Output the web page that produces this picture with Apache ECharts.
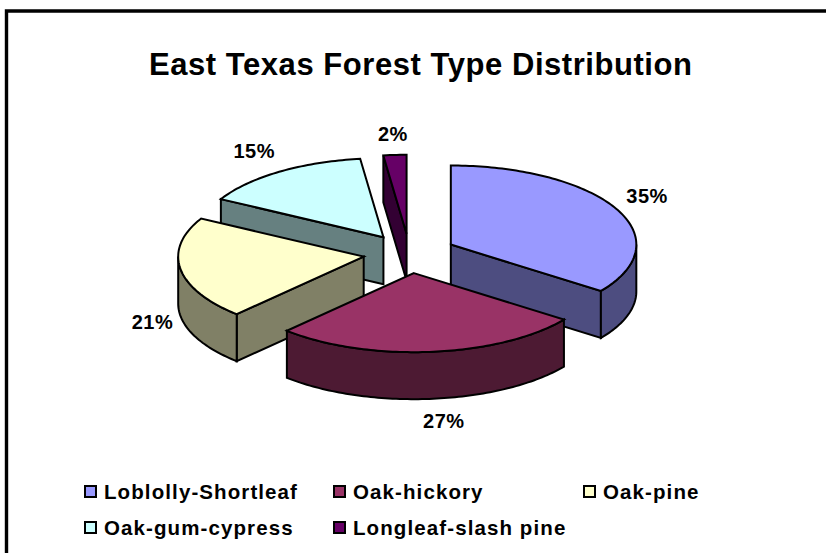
<!DOCTYPE html>
<html><head><meta charset="utf-8">
<style>html,body{margin:0;padding:0;background:#fff}#c{width:826px;height:553px}
svg text{letter-spacing:0}
svg text[style*="20.5px"]{letter-spacing:1.1px}
svg text[style*="31px"]{letter-spacing:.55px}
svg text[style*="20px"]{letter-spacing:.5px}
</style>
<script src="https://cdn.jsdelivr.net/npm/echarts@6/dist/echarts.min.js"></script>
</head><body><div id="c"></div>
<script>
const titleText = 'East Texas Forest Type Distribution';
const categories = ['Loblolly-Shortleaf','Oak-hickory','Oak-pine','Oak-gum-cypress','Longleaf-slash pine'];
const values = [35,27,21,15,2];
const topColors = ['#9999FF','#993366','#FFFFCC','#CCFFFF','#660066'];
const sideColors = ['#4D4D80','#4D1A33','#808066','#668080','#330033'];

const P = {cx:409.5, cy:253.5, rx:185.5, ry:79, depth:47, explode:0.25, lw:2};
const labelNudge = [[31,-13],[12.5,69],[-28,53],[-25,-21],[-2,-21]];
const legendSpots = [[84,481],[333,481],[583,481],[84,517],[333,517]];
const drawOrder = [4,3,2,0,1];

const total = values.reduce((a,b)=>a+b,0);
const starts = [];
values.reduce((acc,v,i)=>{starts[i]=acc;return acc+v;},0);
const rad = v => v/total*Math.PI*2;

function arc(ox,oy,a0,a1){
  const n = Math.max(2,Math.ceil((a1-a0)/0.02)), pts=[];
  for(let k=0;k<=n;k++){
    const a=a0+(a1-a0)*k/n;
    pts.push([ox+P.rx*Math.sin(a), oy-P.ry*Math.cos(a)]);
  }
  return pts;
}
function renderSlice(i){
  return function(){
    const a0=rad(starts[i]), a1=rad(starts[i]+values[i]), mid=(a0+a1)/2;
    const ox=P.cx+P.explode*P.rx*Math.sin(mid), oy=P.cy-P.explode*P.ry*Math.cos(mid);
    const st={stroke:'#000',lineWidth:P.lw,lineJoin:'miter'};
    const kids=[];
    const poly=(pts,fill)=>kids.push({type:'polygon',shape:{points:pts},style:Object.assign({fill},st)});
    const wall=a=>{
      const e=[ox+P.rx*Math.sin(a),oy-P.ry*Math.cos(a)];
      poly([[ox,oy],e,[e[0],e[1]+P.depth],[ox,oy+P.depth]],sideColors[i]);
    };
    // a radial wall shows only when it faces the viewer
    if(a0>Math.PI) wall(a0);
    if(a1<Math.PI) wall(a1);
    const f0=Math.max(a0,Math.PI/2), f1=Math.min(a1,Math.PI*1.5);
    if(f1>f0){
      const up=arc(ox,oy,f0,f1);
      const low=up.map(p=>[p[0],p[1]+P.depth]).reverse();
      poly(up.concat(low),sideColors[i]);
    }
    poly([[ox,oy]].concat(arc(ox,oy,a0,a1)),topColors[i]);
    kids.push({type:'text',style:{
      text:values[i]+'%',
      x:ox+P.rx*Math.sin(mid)+labelNudge[i][0],
      y:oy-P.ry*Math.cos(mid)+labelNudge[i][1],
      fill:'#000',font:'bold 20px "Liberation Sans"',align:'center',verticalAlign:'middle'}});
    return {type:'group',children:kids};
  };
}
const chart=echarts.init(document.getElementById('c'),null,{renderer:'svg'});
chart.setOption({
  animation:false,
  backgroundColor:'#fff',
  title:{text:titleText,left:144,top:44,padding:5,
    textStyle:{fontFamily:'Liberation Sans',fontWeight:'bold',fontSize:31,color:'#000'}},
  legend:categories.map((name,i)=>({
    data:[name],left:legendSpots[i][0],top:legendSpots[i][1],padding:0,
    icon:'rect',itemWidth:11,itemHeight:11,itemGap:0,
    itemStyle:{borderColor:'#000',borderWidth:2},
    textStyle:{fontFamily:'Liberation Sans',fontWeight:'bold',fontSize:20.5,color:'#000',padding:[0,0,0,3]},
    selectedMode:false
  })),
  graphic:[{type:'polyline',shape:{points:[[6.5,553],[6.5,11],[826,11]]},
    style:{stroke:'#000',lineWidth:3.4,fill:null},z:-1}],
  series:drawOrder.map(i=>({
    type:'custom',name:categories[i],coordinateSystem:'none',
    itemStyle:{color:topColors[i]},
    data:[values[i]],renderItem:renderSlice(i),silent:true
  }))
});
</script></body></html>
